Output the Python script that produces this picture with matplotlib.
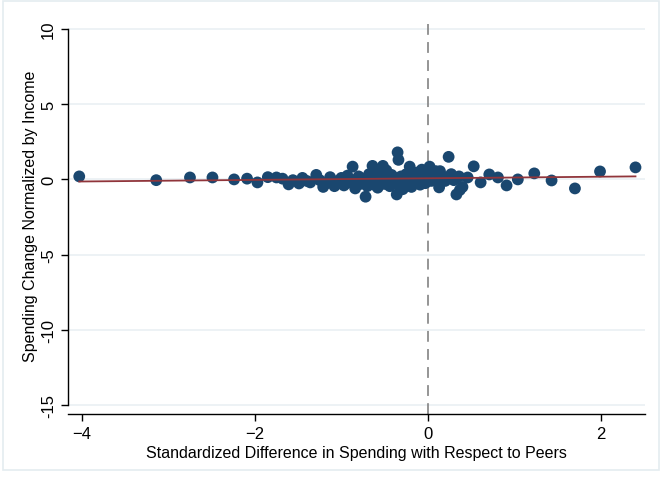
import numpy as np
import matplotlib
matplotlib.use("Agg")
from matplotlib import pyplot as plt
from matplotlib.patches import Rectangle

plt.rcParams['font.family'] = ['Liberation Sans', 'DejaVu Sans']

# Binned scatter: standardized spending gap vs. spending change / income
std_diff = [-4.03, -3.14, -2.75, -2.49, -2.24, -2.09, -1.97, -1.85, -1.75, -1.68,
            -1.61, -1.56, -1.49, -1.45, -1.40, -1.36, -1.29, -1.25, -1.21, -1.17,
            -1.13, -1.10, -1.08, -1.04, -1.00, -0.97, -0.93, -0.90, -0.87, -0.85,
            -0.84, -0.80, -0.78, -0.75, -0.72, -0.70, -0.68, -0.66, -0.64, -0.62,
            -0.60, -0.58, -0.56, -0.54, -0.52, -0.50, -0.48, -0.46, -0.44, -0.42,
            -0.40, -0.38, -0.36, -0.35, -0.34, -0.33, -0.31, -0.29, -0.27, -0.25,
            -0.23, -0.21, -0.19, -0.17, -0.15, -0.13, -0.11, -0.09, -0.07, -0.05,
            -0.03, -0.01, 0.02, 0.04, 0.06, 0.09, 0.11, 0.13, 0.14, 0.17,
            0.20, 0.24, 0.27, 0.30, 0.33, 0.36, 0.37, 0.40, 0.46, 0.53,
            0.61, 0.71, 0.81, 0.91, 1.04, 1.23, 1.43, 1.70, 1.99, 2.40]
spend_change = [0.20, -0.05, 0.13, 0.13, 0.00, 0.05, -0.20, 0.15, 0.13, 0.05,
                -0.33, -0.05, -0.27, 0.10, -0.10, -0.20, 0.30, -0.05, -0.50, -0.25,
                0.15, -0.15, -0.45, -0.10, 0.10, -0.40, 0.25, -0.20, 0.85, -0.05,
                -0.60, 0.20, -0.30, 0.05, -1.15, -0.45, 0.35, -0.10, 0.90, -0.35,
                0.15, -0.55, 0.45, -0.05, 0.90, -0.30, 0.60, 0.05, -0.45, 0.30,
                -0.15, 0.10, -1.00, 1.80, 1.30, -0.40, 0.20, -0.65, -0.05, 0.35,
                -0.30, 0.85, -0.50, 0.10, -0.20, 0.45, -0.05, -0.35, 0.65, 0.20,
                -0.25, 0.40, 0.85, -0.10, 0.30, 0.55, 0.05, -0.53, 0.55, 0.20,
                -0.10, 1.50, 0.35, -0.05, -1.00, 0.20, -0.70, -0.50, 0.13, 0.87,
                -0.20, 0.33, 0.13, -0.40, 0.00, 0.40, -0.07, -0.60, 0.53, 0.80]

x_ticks = [-4, -2, 0, 2]
y_ticks = [-15, -10, -5, 0, 5, 10]

x = np.array(std_diff)
y = np.array(spend_change)
slope, intercept = np.polyfit(x, y, 1)
xfit = np.array([x.min(), x.max()])

fig = plt.figure(figsize=(6.62, 4.81), dpi=100)
fig.patches.append(Rectangle((0.005, 0.02), 0.99, 0.975, transform=fig.transFigure,
                             fill=False, edgecolor='#e4ecf0', lw=1.2))
ax = fig.add_axes([68 / 662, 1 - 415 / 481, (645 - 68) / 662, (415 - 18) / 481])

ax.set_ylim(-15.6, 10.8)
ax.set_xlim(-4.16, 2.51)
for yt in y_ticks:
    ax.axhline(yt, color='#eaf0f3', lw=1.2, zorder=0)
ax.axvline(0, color='#8c8c8c', lw=1.3, ls=(0, (6, 4)), zorder=1)

ax.scatter(x, y, s=72, color='#1a476f', edgecolors='none', zorder=3)
ax.plot(xfit, intercept + slope * xfit, color='#90353b', lw=1.3, zorder=4)

for side in ['top', 'right']:
    ax.spines[side].set_visible(False)
ax.spines['left'].set_bounds(-15, 10)
ax.spines['left'].set_linewidth(1.0)
ax.spines['bottom'].set_linewidth(1.0)

ax.set_xticks(x_ticks)
ax.set_yticks(y_ticks)
ax.set_yticklabels([str(v) for v in y_ticks], rotation=90, va='center')
ax.tick_params(axis='both', direction='out', length=5, width=1.0, labelsize=12, colors='black')

ax.set_xlabel('Standardized Difference in Spending with Respect to Peers', fontsize=11.5, labelpad=3)
ax.set_ylabel('Spending Change Normalized by Income', fontsize=11.5, labelpad=2)

fig.savefig('out.png', dpi=100)
